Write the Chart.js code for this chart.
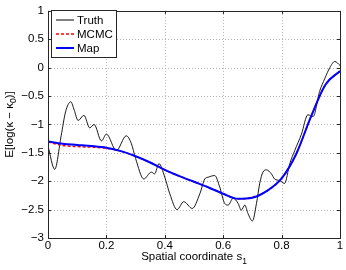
<!DOCTYPE html>
<html>
<head>
<meta charset="utf-8">
<script src="https://cdn.jsdelivr.net/npm/chart.js@4.4.0/dist/chart.umd.min.js"></script>
<style>
  html, body { margin: 0; padding: 0; background: #fff; }
</style>
</head>
<body>
<canvas id="chart" width="346" height="270"></canvas>
<script>
// Truth curve (irregular sample points)
const truthX = [0, 0.023, 0.045, 0.06, 0.078, 0.09, 0.103, 0.123, 0.143, 0.158, 0.183, 0.2, 0.234, 0.268, 0.285, 0.3,
  0.328, 0.354, 0.365, 0.38, 0.4, 0.417, 0.442, 0.465, 0.494, 0.52, 0.537, 0.548, 0.571, 0.588, 0.605, 0.617,
  0.634, 0.651, 0.662, 0.674, 0.685, 0.7, 0.714, 0.725, 0.736, 0.748, 0.765, 0.776, 0.794, 0.81, 0.828,
  0.845, 0.868, 0.89, 0.908, 0.93, 0.948, 0.965, 0.982, 1.0];
const truthY = [-1.38, -1.79, -1.2, -0.78, -0.6, -0.75, -0.93, -0.84, -1.06, -1.0, -1.29, -1.17, -1.46, -1.2, -1.33, -1.6,
  -1.96, -1.84, -1.87, -1.69, -1.93, -2.22, -2.5, -2.36, -2.48, -2.22, -1.96, -1.93, -1.9, -2.1, -2.39, -2.42,
  -2.3, -2.39, -2.51, -2.42, -2.57, -2.7, -2.39, -2.04, -1.84, -1.8, -1.87, -1.96, -1.99, -2.04, -1.69,
  -1.46, -1.17, -0.83, -0.86, -0.42, -0.19, 0.0, 0.11, 0.04];

// MCMC / Map posterior means on a regular grid
const gridX = [0, 0.05, 0.1, 0.15, 0.2, 0.25, 0.3, 0.35, 0.4, 0.45, 0.5, 0.55, 0.6, 0.65, 0.7, 0.75, 0.8, 0.85, 0.9, 0.95, 1.0];
const mapY  = [-1.3, -1.34, -1.36, -1.38, -1.41, -1.47, -1.56, -1.67, -1.8, -1.91, -2.01, -2.11, -2.22, -2.31, -2.29, -2.17, -1.95, -1.52, -0.87, -0.3, -0.06];
const mcmcY = [-1.31, -1.37, -1.39, -1.4, -1.42, -1.47, -1.56, -1.67, -1.8, -1.91, -2.01, -2.11, -2.22, -2.31, -2.28, -2.17, -1.95, -1.52, -0.87, -0.3, -0.06];

const xTicks = [0, 0.2, 0.4, 0.6, 0.8, 1];
const yTicks = [-3, -2.5, -2, -1.5, -1, -0.5, 0, 0.5, 1];

const FONT = '"Liberation Sans", Arial, Helvetica, sans-serif';

function pts(xs, ys) {
  return xs.map((x, i) => ({ x: x, y: ys[i] }));
}

// dotted grid, box, inner ticks, axis titles and legend in MATLAB style
const matlabStyle = {
  id: "matlabStyle",
  beforeDatasetsDraw(chart) {
    const ctx = chart.ctx;
    const a = chart.chartArea;
    const xs = chart.scales.x;
    const ys = chart.scales.y;
    ctx.save();
    ctx.strokeStyle = "#b4b4b4";
    ctx.lineWidth = 1;
    ctx.setLineDash([1, 2]);
    ctx.beginPath();
    xTicks.forEach((t) => {
      const p = Math.round(xs.getPixelForValue(t)) + 0.5;
      ctx.moveTo(p, a.top); ctx.lineTo(p, a.bottom);
    });
    yTicks.forEach((t) => {
      const p = Math.round(ys.getPixelForValue(t)) + 0.5;
      ctx.moveTo(a.left, p); ctx.lineTo(a.right, p);
    });
    ctx.stroke();
    ctx.restore();
  },
  afterDatasetsDraw(chart) {
    const ctx = chart.ctx;
    const a = chart.chartArea;
    const xs = chart.scales.x;
    const ys = chart.scales.y;
    ctx.save();

    // frame
    ctx.strokeStyle = "#262626";
    ctx.lineWidth = 1;
    ctx.setLineDash([]);
    ctx.strokeRect(Math.round(a.left) + 0.5, Math.round(a.top) + 0.5,
      Math.round(a.right - a.left), Math.round(a.bottom - a.top));

    // inner tick marks
    ctx.beginPath();
    xTicks.forEach((t) => {
      const p = Math.round(xs.getPixelForValue(t)) + 0.5;
      ctx.moveTo(p, a.bottom); ctx.lineTo(p, a.bottom - 3);
      ctx.moveTo(p, a.top); ctx.lineTo(p, a.top + 3);
    });
    yTicks.forEach((t) => {
      const p = Math.round(ys.getPixelForValue(t)) + 0.5;
      ctx.moveTo(a.left, p); ctx.lineTo(a.left + 3, p);
      ctx.moveTo(a.right, p); ctx.lineTo(a.right - 3, p);
    });
    ctx.stroke();

    // legend
    const lx = 51, ly = 10, lw = 65, lh = 47;
    ctx.fillStyle = "#fff";
    ctx.fillRect(lx, ly, lw, lh);
    ctx.strokeStyle = "#262626";
    ctx.strokeRect(lx + 0.5, ly + 0.5, lw, lh);
    const items = [
      { label: "Truth", color: "#000", width: 1, dash: [] },
      { label: "MCMC", color: "#ff0000", width: 1.5, dash: [3, 2] },
      { label: "Map", color: "#0000ff", width: 2, dash: [] }
    ];
    ctx.font = "11.5px " + FONT;
    ctx.textBaseline = "middle";
    ctx.textAlign = "left";
    items.forEach((it, i) => {
      const y = 20 + i * 14;
      ctx.beginPath();
      ctx.strokeStyle = it.color;
      ctx.lineWidth = it.width;
      ctx.setLineDash(it.dash);
      ctx.moveTo(56, y);
      ctx.lineTo(74, y);
      ctx.stroke();
      ctx.fillStyle = "#000";
      ctx.fillText(it.label, 77, y + 0.5);
    });
    ctx.setLineDash([]);

    // x axis title with subscript
    ctx.fillStyle = "#000";
    ctx.textBaseline = "alphabetic";
    ctx.font = "11.5px " + FONT;
    const xMain = "Spatial coordinate s";
    const wMain = ctx.measureText(xMain).width;
    ctx.font = "8.5px " + FONT;
    const wSub = ctx.measureText("1").width;
    let x0 = (a.left + a.right) / 2 - (wMain + wSub) / 2;
    ctx.font = "11.5px " + FONT;
    ctx.fillText(xMain, x0, 260);
    ctx.font = "8.5px " + FONT;
    ctx.fillText("1", x0 + wMain, 264);

    // y axis title (rotated) with subscript
    ctx.translate(13, (a.top + a.bottom) / 2);
    ctx.rotate(-Math.PI / 2);
    const parts = [
      { t: "E[log(κ − κ", sub: false },
      { t: "0", sub: true },
      { t: ")]", sub: false }
    ];
    let total = 0;
    parts.forEach((p) => {
      ctx.font = (p.sub ? "8.5px " : "11.5px ") + FONT;
      p.w = ctx.measureText(p.t).width;
      total += p.w;
    });
    let cx = -total / 2;
    parts.forEach((p) => {
      ctx.font = (p.sub ? "8.5px " : "11.5px ") + FONT;
      ctx.fillText(p.t, cx, p.sub ? 3 : 0);
      cx += p.w;
    });
    ctx.restore();
  }
};

const ctx = document.getElementById("chart").getContext("2d");
const chart = new Chart(ctx, {
  type: "line",
  data: {
    datasets: [
      {
        label: "Map",
        data: pts(gridX, mapY),
        borderColor: "#0000ff",
        borderWidth: 2,
        pointRadius: 0,
        cubicInterpolationMode: "monotone",
        order: 0
      },
      {
        label: "MCMC",
        data: pts(gridX, mcmcY),
        borderColor: "#ff0000",
        borderWidth: 1.5,
        borderDash: [3, 2],
        pointRadius: 0,
        cubicInterpolationMode: "monotone",
        order: 1
      },
      {
        label: "Truth",
        data: pts(truthX, truthY),
        borderColor: "#000000",
        borderWidth: 0.9,
        pointRadius: 0,
        cubicInterpolationMode: "monotone",
        order: 2
      }
    ]
  },
  options: {
    responsive: false,
    animation: false,
    events: [],
    layout: { padding: { left: 0, right: 6, top: 8, bottom: 0 } },
    plugins: {
      legend: { display: false },
      tooltip: { enabled: false }
    },
    scales: {
      x: {
        type: "linear",
        min: 0,
        max: 1,
        afterFit: (s) => { s.height = 32; },
        afterBuildTicks: (s) => { s.ticks = xTicks.map((v) => ({ value: v })); },
        ticks: {
          color: "#000",
          font: { family: FONT, size: 11.5 },
          padding: 1,
          maxRotation: 0,
          callback: (v) => String(v)
        },
        grid: { display: false, drawTicks: false },
        border: { display: false }
      },
      y: {
        type: "linear",
        min: -3,
        max: 1,
        afterFit: (s) => { s.width = 48; },
        afterBuildTicks: (s) => { s.ticks = yTicks.map((v) => ({ value: v })); },
        ticks: {
          color: "#000",
          font: { family: FONT, size: 11.5 },
          padding: 4,
          callback: (v) => String(v).replace("-", "\u2212")
        },
        grid: { display: false, drawTicks: false },
        border: { display: false }
      }
    }
  },
  plugins: [matlabStyle]
});
</script>
</body>
</html>
